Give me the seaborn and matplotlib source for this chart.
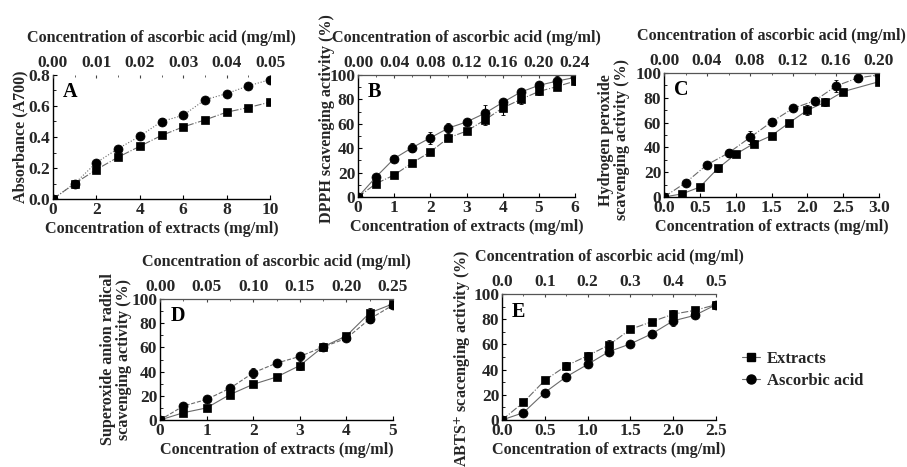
import numpy as np
import pandas as pd
import matplotlib
matplotlib.use("Agg")
import matplotlib.pyplot as plt
from matplotlib.lines import Line2D
from matplotlib.ticker import MultipleLocator, FormatStrFormatter
import seaborn as sns

sns.set_theme(style="ticks")
plt.rcParams["font.family"] = ["Liberation Serif", "DejaVu Serif"]
plt.rcParams["font.weight"] = "bold"
plt.rcParams["axes.labelweight"] = "bold"
plt.rcParams["mathtext.fontset"] = "stix"
plt.rcParams["font.size"] = 12

# ---- data: extracts (bottom axis) and ascorbic acid (top axis) ----
A_ext_x = [0, 1, 2, 3, 4, 5, 6, 7, 8, 9, 10]
A_ext_y = [0, 0.10, 0.19, 0.27, 0.34, 0.41, 0.465, 0.51, 0.56, 0.59, 0.625]
A_ext_e = [0, 0.01, 0.02, 0.015, 0.01, 0.01, 0.01, 0.01, 0.015, 0.01, 0.01]
A_asc_x = [0, 0.005, 0.01, 0.015, 0.02, 0.025, 0.03, 0.035, 0.04, 0.045, 0.05]
A_asc_y = [0, 0.10, 0.235, 0.325, 0.405, 0.50, 0.54, 0.64, 0.68, 0.73, 0.77]
A_asc_e = [0, 0.02, 0.01, 0.02, 0.01, 0.02, 0.015, 0.01, 0.01, 0.015, 0.01]

B_ext_x = [0, 0.5, 1, 1.5, 2, 2.5, 3, 3.5, 4, 4.5, 5, 5.5, 6]
B_ext_y = [0, 11, 18, 28, 37, 48.5, 54, 63, 73, 80, 86.5, 90.5, 95]
B_ext_e = [0, 1, 1, 1.5, 2, 3, 2, 4, 6, 4, 3, 3, 3]
B_asc_x = [0, 0.02, 0.04, 0.06, 0.08, 0.10, 0.12, 0.14, 0.16, 0.18, 0.20, 0.22, 0.24]
B_asc_y = [0, 16.5, 31.5, 40.5, 48.5, 56.5, 61.5, 68.5, 77.5, 86, 91.5, 95, 98]
B_asc_e = [0, 2, 3, 4, 5, 4, 2, 7, 3, 2, 3, 4, 2]

C_ext_x = [0, 0.25, 0.5, 0.75, 1.0, 1.25, 1.5, 1.75, 2.0, 2.25, 2.5, 3.0]
C_ext_y = [0, 2.5, 8, 23, 34.5, 43, 49.5, 60, 70, 76.5, 85, 93]
C_ext_e = [0, 1, 1, 3, 2, 3, 2, 2, 4, 3, 2, 3]
C_asc_x = [0, 0.02, 0.04, 0.06, 0.08, 0.10, 0.12, 0.14, 0.16, 0.18, 0.20]
C_asc_y = [0, 11.5, 26, 35.5, 48, 60.5, 71.5, 77.5, 89.5, 96, 98.5]
C_asc_e = [0, 1, 2, 3, 5, 3, 2, 3, 5, 3, 2]

D_ext_x = [0, 0.5, 1, 1.5, 2, 2.5, 3, 3.5, 4, 4.5, 5]
D_ext_y = [0, 6, 10, 21, 29.5, 35.5, 45, 60.5, 69.5, 88.5, 96]
D_ext_e = [0, 1, 1, 2, 2, 2, 4, 2, 2, 4, 2]
D_asc_x = [0, 0.025, 0.05, 0.075, 0.10, 0.125, 0.15, 0.175, 0.20, 0.225, 0.25]
D_asc_y = [0, 11.5, 17, 26.2, 39, 47, 52.5, 60.3, 67.5, 83.5, 95]
D_asc_e = [0, 1, 1, 2, 4, 3, 2, 2, 2, 3, 2]

E_ext_x = [0, 0.25, 0.5, 0.75, 1.0, 1.25, 1.5, 1.75, 2.0, 2.25, 2.5]
E_ext_y = [0, 14, 31.5, 43, 51, 59.5, 72, 78, 84, 87, 91.5]
E_ext_e = [0, 1, 2, 3, 3, 4, 2, 2, 3, 3, 2]
E_asc_x = [0, 0.05, 0.10, 0.15, 0.20, 0.25, 0.30, 0.35, 0.40, 0.45, 0.50]
E_asc_y = [0, 5.8, 21.8, 34.3, 44.1, 54.3, 60.4, 68.4, 78.7, 83, 91.5]
E_asc_e = [0, 1, 2, 3, 2, 3, 2, 3, 4, 2, 2]

panels = [
    dict(tag="A", rect=(53, 75, 270, 199),
         ext=(A_ext_x, A_ext_y, A_ext_e), asc=(A_asc_x, A_asc_y, A_asc_e),
         xlim=(0, 10), xstep=2, xfmt="%d", tlim=(0, 0.05), tstep=0.01, tfmt="%.2f",
         ylim=(0, 0.8), ystep=0.2, yfmt="%.1f",
         ylabel="Absorbance (A700)", ylx=-0.115, yly=0.5,
         ls_ext="-.", ls_asc=":", top_spine=False),
    dict(tag="B", rect=(358, 75, 575, 197),
         ext=(B_ext_x, B_ext_y, B_ext_e), asc=(B_asc_x, B_asc_y, B_asc_e),
         xlim=(0, 6), xstep=1, xfmt="%d", tlim=(0, 0.24), tstep=0.04, tfmt="%.2f",
         ylim=(0, 100), ystep=20, yfmt="%d",
         ylabel="DPPH scavenging activity (%)", ylx=-0.105, yly=0.64,
         ls_ext="-.", ls_asc="-", top_spine=True),
    dict(tag="C", rect=(664, 73, 879, 197),
         ext=(C_ext_x, C_ext_y, C_ext_e), asc=(C_asc_x, C_asc_y, C_asc_e),
         xlim=(0, 3), xstep=0.5, xfmt="%.1f", tlim=(0, 0.20), tstep=0.04, tfmt="%.2f",
         ylim=(0, 100), ystep=20, yfmt="%d",
         ylabel="Hydrogen peroxide\nscavenging activity (%)", ylx=-0.16, yly=0.46,
         ls_ext="-", ls_asc="-.", top_spine=True),
    dict(tag="D", rect=(160, 299, 393, 420),
         ext=(D_ext_x, D_ext_y, D_ext_e), asc=(D_asc_x, D_asc_y, D_asc_e),
         xlim=(0, 5), xstep=1, xfmt="%d", tlim=(0, 0.25), tstep=0.05, tfmt="%.2f",
         ylim=(0, 100), ystep=20, yfmt="%d",
         ylabel="Superoxide anion radical\nscavenging activity (%)", ylx=-0.12, yly=0.5,
         ls_ext="-", ls_asc="--", top_spine=True),
    dict(tag="E", rect=(502, 294, 716, 420),
         ext=(E_ext_x, E_ext_y, E_ext_e), asc=(E_asc_x, E_asc_y, E_asc_e),
         xlim=(0, 2.5), xstep=0.5, xfmt="%.1f", tlim=(0, 0.5), tstep=0.1, tfmt="%.1f",
         ylim=(0, 100), ystep=20, yfmt="%d",
         ylabel=r"ABTS$^{\mathbf{+}}$ scacenging activity (%)", ylx=-0.135, yly=0.49,
         ls_ext="-.", ls_asc="-", top_spine=True),
]

W, H = 907, 467
fig = plt.figure(figsize=(W / 100, H / 100), dpi=100)
line_col = "#6a6a6a"
LAB = 11.6
TICK = 12.5


def draw_series(ax, xs, ys, es, marker, ms, ls):
    df = pd.DataFrame({"conc": xs, "value": ys})
    sns.lineplot(data=df, x="conc", y="value", ax=ax, sort=False,
                 color=line_col, linewidth=0.8, linestyle=ls,
                 marker=marker, markersize=ms, markerfacecolor="black",
                 markeredgecolor="black", markeredgewidth=0.5, legend=False)
    ax.errorbar(xs, ys, yerr=es, fmt="none", ecolor="black",
                elinewidth=0.8, capsize=1.2, capthick=0.6)


for p in panels:
    x0, y0, x1, y1 = p["rect"]
    ax = fig.add_axes([x0 / W, 1 - y1 / H, (x1 - x0) / W, (y1 - y0) / H])
    axt = ax.twiny()

    draw_series(ax, *p["ext"], "s", 5.8, p["ls_ext"])
    draw_series(axt, *p["asc"], "o", 6.5, p["ls_asc"])

    ax.set_xlim(*p["xlim"])
    ax.set_ylim(*p["ylim"])
    axt.set_xlim(*p["tlim"])
    axt.set_ylim(*p["ylim"])

    ax.xaxis.set_major_locator(MultipleLocator(p["xstep"]))
    ax.xaxis.set_major_formatter(FormatStrFormatter(p["xfmt"]))
    ax.yaxis.set_major_locator(MultipleLocator(p["ystep"]))
    ax.yaxis.set_minor_locator(MultipleLocator(p["ystep"] / 2))
    ax.yaxis.set_major_formatter(FormatStrFormatter(p["yfmt"]))
    axt.xaxis.set_major_locator(MultipleLocator(p["tstep"]))
    axt.xaxis.set_minor_locator(MultipleLocator(p["tstep"] / 2))
    axt.xaxis.set_major_formatter(FormatStrFormatter(p["tfmt"]))

    for a in (ax, axt):
        for s in a.spines.values():
            s.set_visible(False)
    for side in ("left", "bottom"):
        ax.spines[side].set_visible(True)
        ax.spines[side].set_color("black")
        ax.spines[side].set_linewidth(1.0)
    if p["top_spine"]:
        axt.spines["top"].set_visible(True)
        axt.spines["top"].set_color("#555555")
        axt.spines["top"].set_linewidth(0.9)

    ax.tick_params(axis="both", which="major", direction="in", length=3,
                   width=0.8, color="black", labelsize=TICK, pad=2)
    ax.tick_params(axis="y", which="minor", direction="in", length=1.8,
                   width=0.6, color="black", left=True)
    ax.tick_params(axis="x", top=False)
    axt.tick_params(axis="x", which="major", direction="in", length=2.5,
                    width=0.8, color="#444444", labelsize=TICK, pad=3)
    axt.tick_params(axis="x", which="minor", direction="in", length=1.5,
                    width=0.6, color="#444444")
    axt.tick_params(axis="y", left=False, right=False, labelleft=False,
                    labelright=False)
    for lab in ax.get_xticklabels() + ax.get_yticklabels() + axt.get_xticklabels():
        lab.set_fontweight("bold")

    ax.set_xlabel("Concentration of extracts (mg/ml)", fontsize=LAB,
                  fontweight="bold", labelpad=2)
    axt.set_xlabel("Concentration of ascorbic acid (mg/ml)", fontsize=LAB,
                   fontweight="bold", labelpad=9)
    axt.set_ylabel("")
    ax.set_ylabel(p["ylabel"], fontsize=LAB, fontweight="bold",
                  linespacing=1.0)
    ax.yaxis.set_label_coords(p["ylx"], p["yly"])

    ax.text(0.045, 0.86, p["tag"], transform=ax.transAxes, fontsize=14.5,
            fontweight="bold", ha="left", va="center", color="black")

handles = [
    Line2D([], [], color=line_col, linewidth=0.8, marker="s", markersize=5.8,
           markerfacecolor="black", markeredgecolor="black"),
    Line2D([], [], color=line_col, linewidth=0.8, marker="o", markersize=6.5,
           markerfacecolor="black", markeredgecolor="black"),
]
fig.legend(handles, ["Extracts", "Ascorbic acid"], loc="center left",
           bbox_to_anchor=(742 / W, 1 - 370 / H), frameon=False,
           handlelength=1.1, handletextpad=0.4, labelspacing=0.35,
           borderaxespad=0, borderpad=0,
           prop={"family": ["Liberation Serif"], "weight": "bold", "size": 12})

fig.savefig("out.png", dpi=100, facecolor="white")
